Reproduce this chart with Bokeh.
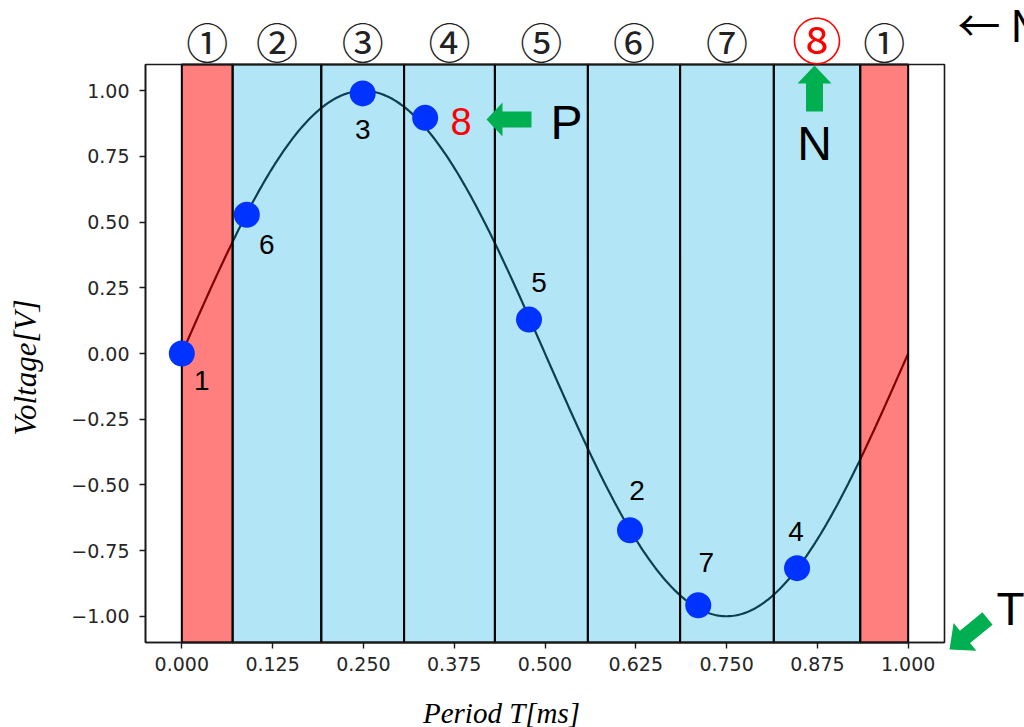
import math

from bokeh.core.properties import value
from bokeh.embed import file_html
from bokeh.models import ColumnDataSource, FixedTicker, Label, LabelSet, PolyAnnotation
from bokeh.plotting import figure
from bokeh.resources import INLINE
import numpy as np

# ---- data -----------------------------------------------------------------
# sampled points, listed in the order they were taken
sample_order = ["1", "2", "3", "4", "5", "6", "7", "8"]
sample_t = [0.000, 0.617, 0.249, 0.847, 0.478, 0.0895, 0.711, 0.335]
sample_v = [0.000, -0.673, 0.990, -0.817, 0.129, 0.528, -0.958, 0.897]

# time slots along one period
slot_edges = [0.000, 0.070, 0.192, 0.306, 0.431, 0.559, 0.686, 0.815, 0.934, 1.000]
slot_labels = ["①", "②", "③", "④", "⑤", "⑥", "⑦", "⑧", "①"]
slot_kind = ["edge", "mid", "mid", "mid", "mid", "mid", "mid", "mid", "edge"]

# reference waveform: one period of a unit sine
AMPLITUDE = 1.0
PERIOD_MS = 1.0

x_ticks = [0.0, 0.125, 0.25, 0.375, 0.5, 0.625, 0.75, 0.875, 1.0]
x_tick_labels = ["0.000", "0.125", "0.250", "0.375", "0.500", "0.625", "0.750", "0.875", "1.000"]
y_ticks = [-1.0, -0.75, -0.5, -0.25, 0.0, 0.25, 0.5, 0.75, 1.0]
y_tick_labels = ["\u22121.00", "\u22120.75", "\u22120.50", "\u22120.25", "0.00", "0.25", "0.50", "0.75", "1.00"]

# ---- layout ---------------------------------------------------------------
# The drawing surface spans the whole canvas; the plot box (X0..X1, Y0..Y1)
# sits inside it at pixel box FL..FR, FT..FB, with the axes pinned to its edges
# so that callouts and slot numbers can live in the margins.
W, H = 1024, 727
X0, X1 = -0.05, 1.05
Y0, Y1 = -1.1, 1.1
FL, FR, FT, FB = 145, 944, 64, 642


def cx(px):
    """canvas pixel column -> data x"""
    return X0 + (px - FL) / (FR - FL) * (X1 - X0)


def cy(py):
    """canvas pixel row -> data y"""
    return Y1 - (py - FT) / (FB - FT) * (Y1 - Y0)


p = figure(
    width=W, height=H,
    x_range=(cx(0), cx(W)), y_range=(cy(H), cy(0)),
    output_backend="svg", toolbar_location=None,
    min_border=0,
    background_fill_color="white", border_fill_color="white",
)
p.title.visible = False
p.grid.visible = False
p.outline_line_color = None

for ax in (p.xaxis, p.yaxis):
    ax.axis_line_color = "#1a1a1a"
    ax.axis_line_width = 1.6
    ax.major_tick_line_color = "#1a1a1a"
    ax.major_tick_line_width = 1.4
    ax.major_tick_out = 6
    ax.major_tick_in = 0
    ax.minor_tick_line_color = None
    ax.major_label_text_font = "DejaVu Sans"
    ax.major_label_text_font_size = "19px"
    ax.major_label_text_color = "#262626"

p.xaxis.fixed_location = Y0
p.xaxis.bounds = (X0, X1)
p.xaxis.ticker = FixedTicker(ticks=x_ticks)
p.xaxis.major_label_overrides = dict(zip(x_ticks, x_tick_labels))
p.xaxis.major_label_standoff = 8

p.yaxis.fixed_location = X0
p.yaxis.bounds = (Y0, Y1)
p.yaxis.ticker = FixedTicker(ticks=y_ticks)
p.yaxis.major_label_overrides = dict(zip(y_ticks, y_tick_labels))
p.yaxis.major_label_standoff = 10

# ---- waveform ---------------------------------------------------------------
t = np.linspace(0.0, PERIOD_MS, 400)
p.line(t, AMPLITUDE * np.sin(2 * np.pi * t / PERIOD_MS), line_color="black", line_width=2.2)

# ---- slot bands (tinted over the waveform) ----------------------------------
band_color = {"edge": "#ff0000", "mid": "#23b8e8"}
band_alpha = {"edge": 0.5, "mid": 0.35}
bands = ColumnDataSource(dict(
    left=slot_edges[:-1], right=slot_edges[1:],
    fill=[band_color[k] for k in slot_kind],
    alpha=[band_alpha[k] for k in slot_kind],
))
p.quad(left="left", right="right", bottom=Y0, top=Y1, source=bands,
       fill_color="fill", fill_alpha="alpha", line_color="black", line_width=2)

# plot box
p.quad(left=X0, right=X1, bottom=Y0, top=Y1, fill_color=None,
       line_color="#1a1a1a", line_width=1.6)

# ---- samples ----------------------------------------------------------------
p.scatter(sample_t, sample_v, size=26, marker="circle", fill_color="#0033ff", line_color=None)

label_dx = [20, 7, 0, -1, 10, 20, 8, 36]
label_dy = [27, -40, 36, -37, -37, 30, -43, 4]
label_color = ["black"] * 7 + ["red"]
label_size = ["28px"] * 7 + ["38px"]
p.text(x=sample_t, y=sample_v, text=sample_order,
       x_offset=label_dx, y_offset=label_dy,
       text_color=label_color, text_font_size=label_size,
       text_font=value("Liberation Sans"), text_align="center", text_baseline="middle")

# ---- slot numbers above the box ---------------------------------------------
centers = [(a + b) / 2 for a, b in zip(slot_edges[:-1], slot_edges[1:])]
top_src = ColumnDataSource(dict(
    x=centers,
    y=[cy(37) if lab == "⑧" else cy(40) for lab in slot_labels],
    text=slot_labels,
    color=["red" if lab == "⑧" else "#222222" for lab in slot_labels],
    size=["50px" if lab == "⑧" else "42px" for lab in slot_labels],
))
p.add_layout(LabelSet(x="x", y="y", text="text", source=top_src,
                      text_color="color", text_font_size="size",
                      text_font=value("Noto Sans CJK JP"),
                      text_align="center", text_baseline="middle"))

# ---- axis titles ------------------------------------------------------------
p.add_layout(Label(x=cx(501), y=cy(712), text="Period T[ms]",
                   text_font="Liberation Serif", text_font_style="italic",
                   text_font_size="29px", text_color="black",
                   text_align="center", text_baseline="middle"))
p.add_layout(Label(x=cx(25), y=cy(367), text="Voltage[V]", angle=math.pi / 2,
                   text_font="Liberation Serif", text_font_style="italic",
                   text_font_size="31px", text_color="black",
                   text_align="center", text_baseline="middle"))

# ---- callouts ---------------------------------------------------------------
GREEN = "#00b050"


def arrow(tail, tip, shaft_w, head_w, head_len):
    dx, dy = tip[0] - tail[0], tip[1] - tail[1]
    n = math.hypot(dx, dy)
    ux, uy = dx / n, dy / n
    nx, ny = -uy, ux
    bx, by = tip[0] - ux * head_len, tip[1] - uy * head_len
    pts = [
        (tail[0] + nx * shaft_w / 2, tail[1] + ny * shaft_w / 2),
        (bx + nx * shaft_w / 2, by + ny * shaft_w / 2),
        (bx + nx * head_w / 2, by + ny * head_w / 2),
        tip,
        (bx - nx * head_w / 2, by - ny * head_w / 2),
        (bx - nx * shaft_w / 2, by - ny * shaft_w / 2),
        (tail[0] - nx * shaft_w / 2, tail[1] - ny * shaft_w / 2),
    ]
    return PolyAnnotation(xs=[cx(a) for a, _ in pts], ys=[cy(b) for _, b in pts],
                          fill_color=GREEN, fill_alpha=1.0, line_color=None)


p.add_layout(arrow((531, 119), (486, 119), 16, 34, 16))
p.add_layout(arrow((814, 111), (814, 65), 17, 34, 18))
p.add_layout(arrow((987, 618), (949, 649), 16, 36, 20))

for txt, px, py, size, font, align in [
    ("P", 566, 122, "48px", "Liberation Sans", "center"),
    ("N", 814, 143, "48px", "Liberation Sans", "center"),
    ("T", 996, 608, "46px", "Liberation Sans", "left"),
    ("\u2190 N", 957, 22, "43px", "Noto Sans CJK JP", "left"),
]:
    p.add_layout(Label(x=cx(px), y=cy(py), text=txt, text_font=font,
                       text_font_size=size, text_color="black",
                       text_align=align, text_baseline="middle"))

open("out.html", "w").write(file_html(p, INLINE))
